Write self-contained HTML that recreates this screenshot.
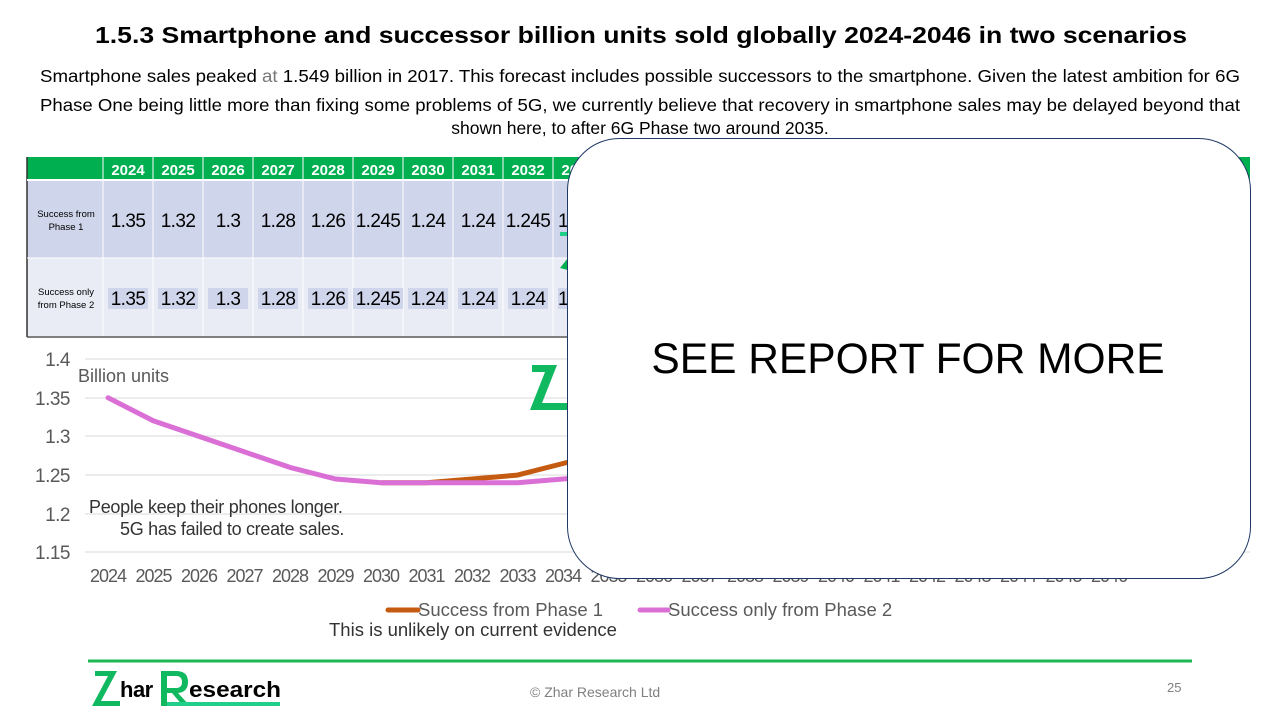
<!DOCTYPE html>
<html><head><meta charset="utf-8"><style>
html,body{margin:0;padding:0;background:#fff;}
body{width:1280px;height:720px;overflow:hidden;position:relative;font-family:"Liberation Sans",sans-serif;}
</style></head><body>
<svg width="1280" height="720" xmlns="http://www.w3.org/2000/svg" style="position:absolute;left:0;top:0;font-family:'Liberation Sans',sans-serif">
<text x="641" y="43" text-anchor="middle" font-size="23" font-weight="bold" fill="#000" textLength="1092" lengthAdjust="spacingAndGlyphs">1.5.3 Smartphone and successor billion units sold globally 2024-2046 in two scenarios</text>
<g font-size="17.5" fill="#000" text-anchor="middle">
<text x="640" y="82" textLength="1200" lengthAdjust="spacingAndGlyphs">Smartphone sales peaked <tspan fill="#777">at</tspan> 1.549 billion in 2017. This forecast includes possible successors to the smartphone. Given the latest ambition for 6G</text>
<text x="640" y="111" textLength="1200" lengthAdjust="spacingAndGlyphs">Phase One being little more than fixing some problems of 5G, we currently believe that recovery in smartphone sales may be delayed beyond that</text>
<text x="640" y="134">shown here, to after 6G Phase two around 2035.</text>
</g>
<!-- table -->
<rect x="27" y="157" width="1223" height="23" fill="#00b050"/>
<rect x="27" y="180" width="1223" height="78" fill="#cfd5ea"/>
<rect x="27" y="258" width="1223" height="78" fill="#e9ebf5"/>
<line x1="27" y1="157" x2="27" y2="337" stroke="#333" stroke-width="1.5"/>
<line x1="27" y1="337" x2="1250" y2="337" stroke="#555" stroke-width="1.5"/>
<line x1="27" y1="180" x2="1250" y2="180" stroke="#fff" stroke-width="2"/>
<line x1="27" y1="258" x2="1250" y2="258" stroke="#fff" stroke-width="1"/>
<g stroke="#fff" stroke-width="1">
<line x1="103" y1="157" x2="103" y2="336"/><line x1="153" y1="157" x2="153" y2="336"/><line x1="203" y1="157" x2="203" y2="336"/><line x1="253" y1="157" x2="253" y2="336"/><line x1="303" y1="157" x2="303" y2="336"/><line x1="353" y1="157" x2="353" y2="336"/><line x1="403" y1="157" x2="403" y2="336"/><line x1="453" y1="157" x2="453" y2="336"/><line x1="503" y1="157" x2="503" y2="336"/><line x1="553" y1="157" x2="553" y2="336"/>
</g>
<g font-size="15" font-weight="bold" fill="#fff" text-anchor="middle">
<text x="128" y="175">2024</text><text x="178" y="175">2025</text><text x="228" y="175">2026</text><text x="278" y="175">2027</text><text x="328" y="175">2028</text><text x="378" y="175">2029</text><text x="428" y="175">2030</text><text x="478" y="175">2031</text><text x="528" y="175">2032</text><text x="578" y="175">2033</text><text x="1238" y="175">46</text>
</g>
<g font-size="9.5" fill="#000" text-anchor="middle">
<text x="66" y="217">Success from</text><text x="66" y="230">Phase 1</text>
<text x="66" y="295">Success only</text><text x="66" y="308">from Phase 2</text>
</g>
<g fill="#cfd5ea"><rect x="108" y="288" width="40" height="21"/><rect x="158" y="288" width="40" height="21"/><rect x="208" y="288" width="40" height="21"/><rect x="258" y="288" width="40" height="21"/><rect x="308" y="288" width="40" height="21"/><rect x="353" y="288" width="50" height="21"/><rect x="408" y="288" width="40" height="21"/><rect x="458" y="288" width="40" height="21"/><rect x="508" y="288" width="40" height="21"/><rect x="558" y="288" width="10" height="21"/></g>
<g font-size="19" fill="#000" text-anchor="middle" letter-spacing="-0.6">
<text x="128" y="227">1.35</text><text x="178" y="227">1.32</text><text x="228" y="227">1.3</text><text x="278" y="227">1.28</text><text x="328" y="227">1.26</text><text x="378" y="227">1.245</text><text x="428" y="227">1.24</text><text x="478" y="227">1.24</text><text x="528" y="227">1.245</text><text x="563" y="227">1</text>
<text x="128" y="305">1.35</text><text x="178" y="305">1.32</text><text x="228" y="305">1.3</text><text x="278" y="305">1.28</text><text x="328" y="305">1.26</text><text x="378" y="305">1.245</text><text x="428" y="305">1.24</text><text x="478" y="305">1.24</text><text x="528" y="305">1.24</text><text x="563" y="305">1</text>
</g>
<rect x="560" y="232" width="8" height="4" fill="#1fcf8a"/>
<path d="M560 268 L568 258 L568 270 Z" fill="#00b050"/>
<!-- chart -->
<g stroke="#d9d9d9" stroke-width="1">
<line x1="85" y1="359" x2="1250" y2="359"/><line x1="85" y1="398" x2="1250" y2="398"/><line x1="85" y1="436" x2="1250" y2="436"/><line x1="85" y1="475" x2="1250" y2="475"/><line x1="85" y1="514" x2="1250" y2="514"/><line x1="85" y1="552" x2="1250" y2="552"/>
</g>
<g font-size="19" fill="#595959" text-anchor="end" letter-spacing="-0.5">
<text x="70" y="366">1.4</text><text x="70" y="405">1.35</text><text x="70" y="443">1.3</text><text x="70" y="482">1.25</text><text x="70" y="521">1.2</text><text x="70" y="559">1.15</text>
</g>
<text x="78" y="382" font-size="18" fill="#595959">Billion units</text>
<path d="M530 410 L545 372 L532 372 L532 365 L557 365 L542 403 L567 403 L567 410 Z" fill="#10b860"/>
<g font-size="18" fill="#595959" text-anchor="middle" letter-spacing="-1">
<text x="108" y="582">2024</text><text x="153.5" y="582">2025</text><text x="199" y="582">2026</text><text x="244.5" y="582">2027</text><text x="290" y="582">2028</text><text x="335.5" y="582">2029</text><text x="381" y="582">2030</text><text x="426.5" y="582">2031</text><text x="472" y="582">2032</text><text x="517.5" y="582">2033</text><text x="563" y="582">2034</text><text x="608.5" y="582">2035</text><text x="654" y="582">2036</text><text x="699.5" y="582">2037</text><text x="745" y="582">2038</text><text x="790.5" y="582">2039</text><text x="836" y="582">2040</text><text x="881.5" y="582">2041</text><text x="927" y="582">2042</text><text x="972.5" y="582">2043</text><text x="1018" y="582">2044</text><text x="1063.5" y="582">2045</text><text x="1109" y="582">2046</text>
</g>
<polyline points="381,482.8 426.5,482.8 472,479 517.5,475.1 563,463.5 608.5,451.9" fill="none" stroke="#c55a11" stroke-width="5" stroke-linejoin="round"/>
<polyline points="108,397.7 153.5,420.9 199,436.4 244.5,451.9 290,467.4 335.5,479 381,482.8 426.5,482.8 472,482.8 517.5,482.8 563,479 608.5,475.1" fill="none" stroke="#da70d6" stroke-width="5" stroke-linejoin="round" stroke-linecap="round"/>
<g font-size="18" fill="#333" letter-spacing="-0.3">
<text x="89" y="513">People keep their phones longer.</text>
<text x="120" y="535">5G has failed to create sales.</text>
</g>
<line x1="388" y1="610" x2="418" y2="610" stroke="#c55a11" stroke-width="5" stroke-linecap="round"/>
<text x="418" y="616" font-size="18.5" fill="#595959">Success from Phase 1</text>
<line x1="640" y1="610" x2="668" y2="610" stroke="#da70d6" stroke-width="5" stroke-linecap="round"/>
<text x="668" y="616" font-size="18.5" fill="#595959">Success only from Phase 2</text>
<text x="329" y="636" font-size="18.5" fill="#333">This is unlikely on current evidence</text>
<!-- popup -->
<rect x="567.5" y="138.5" width="683" height="440" rx="52" ry="52" fill="#fff" stroke="#1f3864" stroke-width="1"/>
<text x="908" y="373" text-anchor="middle" font-size="42.5" fill="#000">SEE REPORT FOR MORE</text>
<!-- footer -->
<line x1="88" y1="661" x2="1192" y2="661" stroke="#1db954" stroke-width="3"/>
<path d="M92 706 L108 676 L95 676 L95 671 L117 671 L101 701 L120 701 L120 706 Z" fill="#10b860"/>
<text x="120" y="697" font-size="22" font-weight="bold" fill="#000" letter-spacing="-0.5">har</text>
<path d="M161 706 L161 671 L176 671 Q188 671 188 682 Q188 692 178 693 L190 706 L183 706 L172 693 L167 693 L167 706 Z M167 676 L167 688 L176 688 Q182 688 182 682 Q182 676 176 676 Z" fill="#10b860"/>
<rect x="167" y="702" width="113" height="4" fill="#1fcf8a"/>
<text x="189" y="697" font-size="22" font-weight="bold" fill="#000" textLength="92" lengthAdjust="spacingAndGlyphs">esearch</text>
<text x="530" y="697" font-size="14" fill="#808080">© Zhar Research Ltd</text>
<text x="1167" y="692" font-size="13" fill="#808080">25</text>
</svg>
</body></html>
